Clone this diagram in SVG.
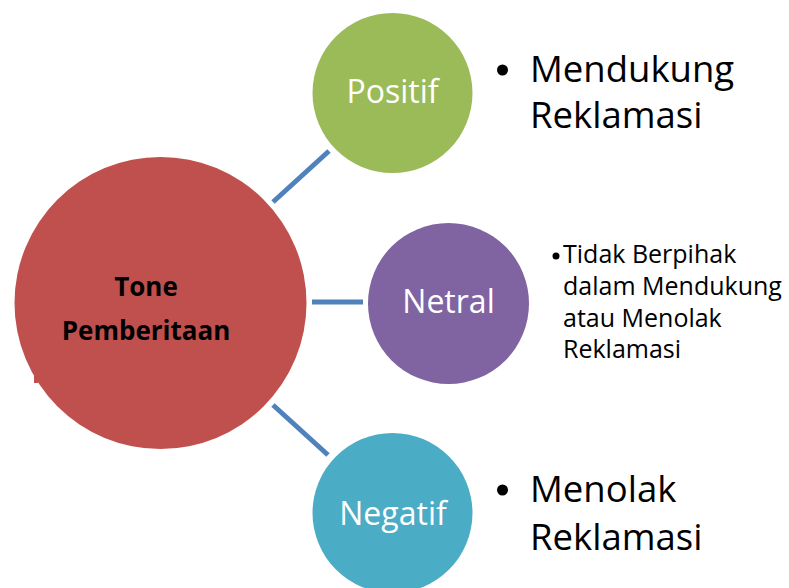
<svg xmlns="http://www.w3.org/2000/svg" width="789" height="588" viewBox="0 0 789 588">
<style>
.conn{stroke:#4f81bd;stroke-width:5;fill:none}
.lbl{font-family:"Open Sans","Liberation Sans",sans-serif;fill:#ffffff;font-size:32px;text-anchor:middle}
.main{font-family:"Open Sans","Liberation Sans",sans-serif;font-weight:bold;font-size:26px;fill:#000;text-anchor:middle}
.big{font-family:"Open Sans","Liberation Sans",sans-serif;font-size:36.5px;fill:#000}
.small{font-family:"Open Sans","Liberation Sans",sans-serif;font-size:25px;fill:#000}
</style>
<rect width="789" height="588" fill="#ffffff"/>
<g id="connectors">
<line class="conn" x1="273" y1="202" x2="329" y2="151"/>
<line class="conn" x1="312" y1="302" x2="363" y2="302"/>
<line class="conn" x1="273" y1="405" x2="328" y2="455"/>
</g>
<g id="tone">
<circle cx="160.5" cy="303" r="146" fill="#c0504d"/>
<rect x="34" y="375" width="4" height="8" fill="#c0504d"/>
<text class="main" x="146" y="296">Tone</text>
<text class="main" x="146" y="340">Pemberitaan</text>
</g>
<g id="positif">
<circle cx="392.5" cy="93" r="80" fill="#9bbb59"/>
<text class="lbl" x="392.5" y="103">Positif</text>
</g>
<g id="netral">
<circle cx="448.5" cy="303.5" r="80.5" fill="#8064a2"/>
<text class="lbl" x="448.5" y="313">Netral</text>
</g>
<g id="negatif">
<circle cx="392.5" cy="513" r="80" fill="#4bacc6"/>
<text class="lbl" x="393" y="525">Negatif</text>
</g>
<g id="positif-text">
<circle cx="502.5" cy="70" r="5.5" fill="#000"/>
<text class="big" x="530" y="82">Mendukung</text>
<text class="big" x="530" y="128">Reklamasi</text>
</g>
<g id="netral-text">
<circle cx="556" cy="256" r="3.5" fill="#000"/>
<text class="small" x="563" y="263">Tidak Berpihak</text>
<text class="small" x="563" y="295">dalam Mendukung</text>
<text class="small" x="563" y="327">atau Menolak</text>
<text class="small" x="563" y="358">Reklamasi</text>
</g>
<g id="negatif-text">
<circle cx="502.5" cy="490" r="5.5" fill="#000"/>
<text class="big" x="530" y="502">Menolak</text>
<text class="big" x="530" y="550">Reklamasi</text>
</g>
</svg>
